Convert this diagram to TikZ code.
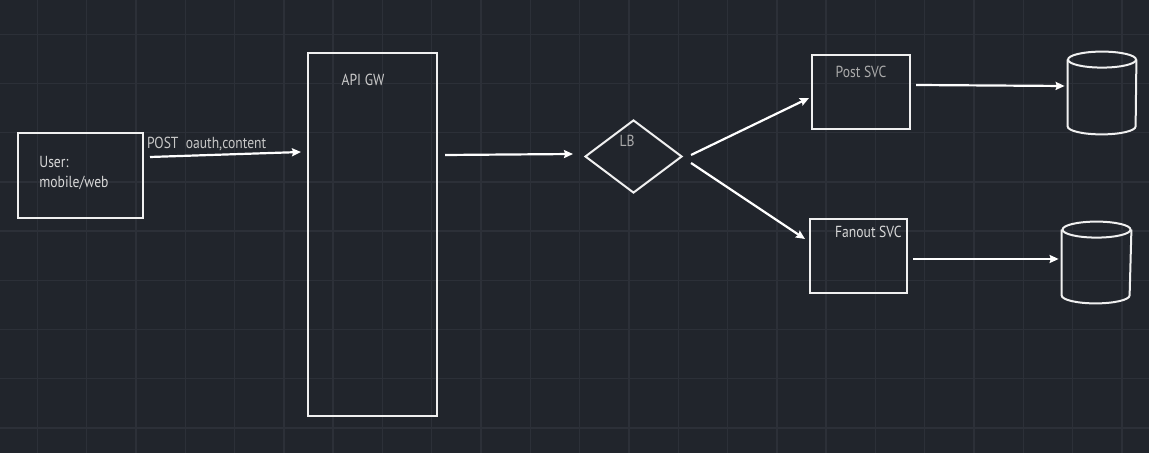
\documentclass[tikz,border=0pt]{standalone}
\usepackage{fontspec}
\setmainfont{PT Sans}[FakeStretch=0.85]
\usetikzlibrary{calc, positioning, shapes.geometric, arrows.meta}
\definecolor{bgcol}{HTML}{21252C}
\definecolor{gridcol}{HTML}{2C3038}
\definecolor{txtcol}{HTML}{D8D8D8}
\definecolor{dimcol}{HTML}{ABABAB}
\tikzset{
  font=\fontsize{8pt}{10pt}\selectfont,
  % Set arrowhead
  >={Stealth[length=4.5pt, width=4pt, inset=0.6pt]},
  % pixel units
  x=0.5pt, y=-0.5pt,
  % Grid line
  gline/.style={draw=gridcol, line width=0.7pt},
  % General box
  box/.style={draw=white!94!black, line width=1pt, shape=rectangle,
    inner sep=0pt},
  % Service node
  svc/.style={box, minimum width=49pt, minimum height=37pt},
  % Balancer node
  lbnode/.style={box, shape=diamond, minimum width=48.5pt,
    minimum height=36.5pt},
  % Database frame
  db/.style={shape=rectangle, inner sep=0pt, minimum width=34pt,
    minimum height=41pt},
  % Labels
  lbl/.style={text=txtcol, inner sep=0pt},
  dlbl/.style={lbl, text=dimcol},
  % Arrows
  q->/.style={->, draw=white, line width=1.1pt},
}

\begin{document}
\begin{tikzpicture}
      \useasboundingbox (0,0) rectangle (1149,453);
      \clip (0,0) rectangle (1149,453);
      \fill[bgcol] (-5,-5) rectangle (1154,458);
      \foreach \i in {0,...,22}
        \draw[gline] (37.3+49.3*\i,0) -- (37.3+49.3*\i,453);
      \foreach \j in {0,...,8}
        \draw[gline] (0,34.3+49.2*\j) -- (1149,34.3+49.2*\j);

      \node[box, minimum width=62.5pt, minimum height=42.5pt] (user) at (80.5,175.5) {};
      \node[box, minimum width=64.5pt, minimum height=181.5pt] (gw) at (372.5,234.5) {};
      \node[lbnode] (lb) at (633.5,156.5) {};
      \node[svc] (post) at (861,92) {};
      \node[svc, minimum width=48.5pt] (fanout) at (858.5,256.5) {};
      \node[db] (db1) at (1102,93) {};
      \node[db, minimum width=34.5pt, minimum height=40.5pt] (db2) at (1096.5,262.5) {};

      % cylinders
      \foreach \d in {db1,db2}{
        \draw[box] ($(\d.north west)+(0,8)$) -- ($(\d.south west)+(0,-8)$)
          arc[start angle=180, end angle=360, x radius=17pt, y radius=4pt]
          -- ($(\d.north east)+(0,8)$);
        \draw[box] ($(\d.north)+(0,8)$) ellipse [x radius=17pt, y radius=4pt];
      }

      \node[lbl, anchor=west, align=left] (userlbl) at ($(user.west)+(22,-2)$)
        {User:\\mobile/web};
      \node[dlbl, text=white!80!black] (gwlbl) at ($(gw.north)+(-9.5,28)$) {API GW};
      \node[dlbl] (lblbl) at ($(lb.north)+(-6.5,22)$) {LB};
      \node[dlbl] (postlbl) at ($(post.north)+(0,18)$) {Post SVC};
      \node[lbl, anchor=east] (fanlbl) at ($(fanout.north east)+(-6,13)$) {Fanout SVC};

      \draw[q->] ($(user.north east)+(6,25)$) -- ($(gw.north west)+(-6,100)$)
        node[lbl, text=white!78!black, pos=0, anchor=south west, yshift=2.5pt,
          xshift=-2pt] (req) {POST\ \ oauth,content};
      \draw[q->] ($(gw.north east)+(7,103)$) -- ($(lb.west)+(-11,-2.5)$);
      \draw[q->] ($(lb.east)+(8,-1.5)$) -- ($(post.south west)+(-2,-32)$);
      \draw[q->] ($(lb.east)+(8,6.5)$) -- ($(fanout.west)+(-4,-17.5)$);
      \draw[q->] ($(post.east)+(5,-7)$) -- ($(db1.west)+(-3,-7)$);
      \draw[q->] ($(fanout.east)+(5,2.5)$) -- ($(db2.west)+(-3,-3.5)$);
    \end{tikzpicture}
\end{document}
